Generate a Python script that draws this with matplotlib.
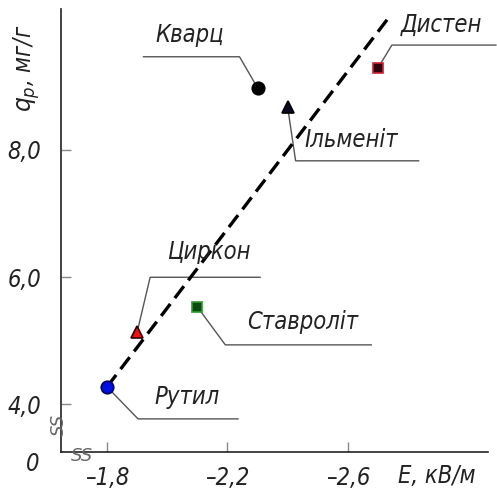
import matplotlib
matplotlib.use("Agg")
import matplotlib.pyplot as plt
from matplotlib.transforms import IdentityTransform

# minerals: E (kV/m), q_p (mg/g)
names = ["Рутил", "Циркон", "Ставроліт", "Кварц", "Ільменіт", "Дистен"]
E_vals = [-1.80, -1.90, -2.10, -2.30, -2.40, -2.70]
q_vals = [4.27, 5.13, 5.53, 8.98, 8.68, 9.29]
markers = ["o", "^", "s", "o", "^", "s"]
faces = ["#0010e0", "#f01010", "#0b4a12", "#000000", "#0a0a22", "#2a0510"]
edges = ["#000060", "#300000", "#2e9a2e", "#000000", "#000000", "#d02030"]
sizes = [9, 9, 7, 9, 9, 7]

# trend line ends
trend_E = [-1.80, -2.74]
trend_q = [4.27, 10.11]

xticks = [-1.8, -2.2, -2.6]
xtick_labels = ["–1,8", "–2,2", "–2,6"]
yticks = [4.0, 6.0, 8.0]
ytick_labels = ["4,0", "6,0", "8,0"]

# leader layout in pixels: elbow offset, underline length, text offset
layout = {
    "Кварц": ((-18, 31), -96, (-68, 53)),
    "Дистен": ((14, 23), 104, (64, 43)),
    "Ільменіт": ((8, -54), 123, (64, -33)),
    "Циркон": ((13, 55), 110, (72, 80)),
    "Ставроліт": ((28, -38), 146, (105, -15)),
    "Рутил": ((31, -32), 100, (80, -10)),
}

fam = "DejaVu Sans"
fs = 17
txt = dict(family=fam, style="italic", stretch="condensed", color="#222222")

fig = plt.figure(figsize=(4.97, 4.95), dpi=100)
ax = fig.add_axes([0.1227, 0.0869, 0.8593, 0.8949])
ax.set_xlim(-1.647, -3.066)
ax.set_ylim(3.245, 10.22)

for s in ["top", "right"]:
    ax.spines[s].set_visible(False)
for s in ["left", "bottom"]:
    ax.spines[s].set_color("#222222")
    ax.spines[s].set_linewidth(1.2)

ax.set_xticks(xticks)
ax.set_xticklabels(xtick_labels)
ax.set_yticks(yticks)
ax.set_yticklabels(ytick_labels)
ax.tick_params(axis="both", direction="in", length=7, color="#888888", width=1)
ax.tick_params(axis="x", pad=10)
ax.tick_params(axis="y", pad=14)
for lab in ax.get_xticklabels() + ax.get_yticklabels():
    lab.set_family(fam)
    lab.set_style("italic")
    lab.set_stretch("condensed")
    lab.set_fontsize(fs)
    lab.set_color("#222222")

ax.plot(trend_E, trend_q, color="black", lw=2.4, dashes=(4.5, 2.2), zorder=2)

for i in range(len(names)):
    ax.plot(E_vals[i], q_vals[i], marker=markers[i], ms=sizes[i],
            mfc=faces[i], mec=edges[i], mew=1.2, ls="none", zorder=3)

fig.canvas.draw()
for i, nm in enumerate(names):
    (ex, ey), ln, (tx, ty) = layout[nm]
    px, py = ax.transData.transform((E_vals[i], q_vals[i]))
    bx, by = px + ex, py + ey
    ax.plot([px, bx, bx + ln], [py, by, by], color="#555555", lw=1,
            transform=IdentityTransform(), clip_on=False, zorder=1)
    ax.annotate(nm, xy=(E_vals[i], q_vals[i]), xytext=(tx, ty),
                textcoords="offset pixels", ha="center", va="center",
                fontsize=fs, **txt)

# axis labels
ax.text(-0.08, 0.865, "$q_p$, мг/г", transform=ax.transAxes, rotation=90,
        ha="center", va="center", fontsize=fs, **txt)
ax.text(0.88, -0.055, "E, кВ/м", transform=ax.transAxes, ha="center",
        va="center", fontsize=fs, **txt)
ax.text(-0.066, -0.028, "0", transform=ax.transAxes, ha="center",
        va="center", fontsize=fs, **txt)

# axis break marks
ax.text(-0.005, 0.06, "SS", transform=ax.transAxes, rotation=90,
        ha="center", va="center", fontsize=13, family=fam, style="italic",
        color="#666666")
ax.text(0.05, -0.008, "SS", transform=ax.transAxes, ha="center",
        va="center", fontsize=13, family=fam, style="italic", color="#666666")

fig.savefig("out.png", dpi=100)
